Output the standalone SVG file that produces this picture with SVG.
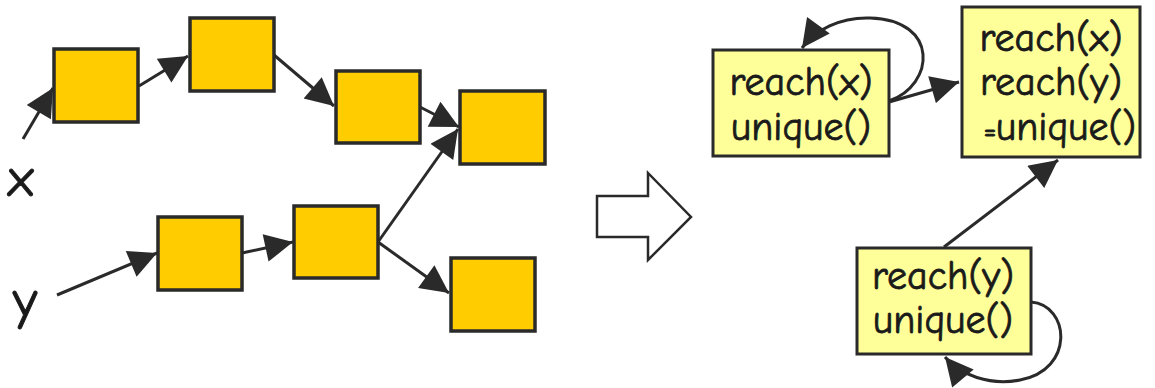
<svg xmlns="http://www.w3.org/2000/svg" width="1155" height="388" viewBox="0 0 1155 388">
<style>
.obj{fill:#ffcc00;stroke:#2a2a2a;stroke-width:3.5}
.st{fill:#ffff99;stroke:#2a2a2a;stroke-width:3}
.c{fill:none;stroke:#2a2a2a;stroke-width:3}
.t{font-family:"Comic Sans MS","Comic Neue","DejaVu Sans","Noto Sans",sans-serif;font-size:40px;font-weight:400;fill:#1a1a1a;stroke:#1a1a1a;stroke-width:0.8;text-anchor:middle}
.v{font-family:"Comic Sans MS","Comic Neue","DejaVu Sans","Noto Sans",sans-serif;font-size:54px;font-weight:400;fill:#1a1a1a;stroke:#1a1a1a;stroke-width:1}
</style>
<defs>
<marker id="ah" viewBox="0 0 10 10" refX="10" refY="5" markerWidth="30" markerHeight="28" markerUnits="userSpaceOnUse" orient="auto">
<path d="M0,0 L10,5 L0,10 z" fill="#2a2a2a"/>
</marker>
</defs>
<rect width="1155" height="388" fill="#ffffff"/>
<g id="connectors">
<line class="c" x1="23" y1="139" x2="53" y2="88" marker-end="url(#ah)"/>
<line class="c" x1="139" y1="86" x2="188" y2="56" marker-end="url(#ah)"/>
<line class="c" x1="274" y1="55" x2="334" y2="106" marker-end="url(#ah)"/>
<line class="c" x1="420" y1="107" x2="459" y2="127" marker-end="url(#ah)"/>
<line class="c" x1="378" y1="242" x2="458" y2="129" marker-end="url(#ah)"/>
<line class="c" x1="378" y1="242" x2="449" y2="293" marker-end="url(#ah)"/>
<line class="c" x1="57" y1="295" x2="157" y2="253" marker-end="url(#ah)"/>
<line class="c" x1="242" y1="253" x2="293" y2="242" marker-end="url(#ah)"/>
<path class="c" d="M889,101 C935,85 940,20 870,18 C840,17 815,30 802,48" marker-end="url(#ah)"/>
<line class="c" x1="889" y1="102" x2="959" y2="82" marker-end="url(#ah)"/>
<line class="c" x1="944" y1="247" x2="1058" y2="160" marker-end="url(#ah)"/>
<path class="c" d="M1031,302 C1070,305 1075,370 1020,380 C990,386 960,375 945,357" marker-end="url(#ah)"/>
</g>
<g id="label-x"><text class="v" x="8" y="196">x</text></g>
<g id="label-y"><text class="v" x="13" y="318">y</text></g>
<g id="obj1"><rect class="obj" x="54" y="49" width="84" height="73"/></g>
<g id="obj2"><rect class="obj" x="190" y="18" width="84" height="73"/></g>
<g id="obj3"><rect class="obj" x="336" y="71" width="84" height="72"/></g>
<g id="obj4"><rect class="obj" x="460" y="91" width="85" height="73"/></g>
<g id="obj5"><rect class="obj" x="158" y="217" width="84" height="73"/></g>
<g id="obj6"><rect class="obj" x="294" y="206" width="84" height="72"/></g>
<g id="obj7"><rect class="obj" x="451" y="258" width="84" height="73"/></g>
<g id="transform-arrow"><path d="M597,196 L648,196 L648,173 L691,217 L648,260 L648,237 L597,237 Z" fill="#ffffff" stroke="#2a2a2a" stroke-width="2.5"/></g>
<g id="state1">
<rect class="st" x="713" y="50" width="176" height="106"/>
<text class="t" x="801" y="95">reach(x)</text>
<text class="t" x="801" y="140">unique()</text>
</g>
<g id="state2">
<rect class="st" x="962" y="7" width="178" height="150"/>
<text class="t" x="1051" y="51">reach(x)</text>
<text class="t" x="1051" y="95">reach(y)</text>
<text class="t" x="1066" y="140">unique()</text>
<text class="t" x="990" y="140" style="font-size:28px">=</text>
</g>
<g id="state3">
<rect class="st" x="857" y="248" width="174" height="106"/>
<text class="t" x="943" y="289">reach(y)</text>
<text class="t" x="943" y="333">unique()</text>
</g>
</svg>
